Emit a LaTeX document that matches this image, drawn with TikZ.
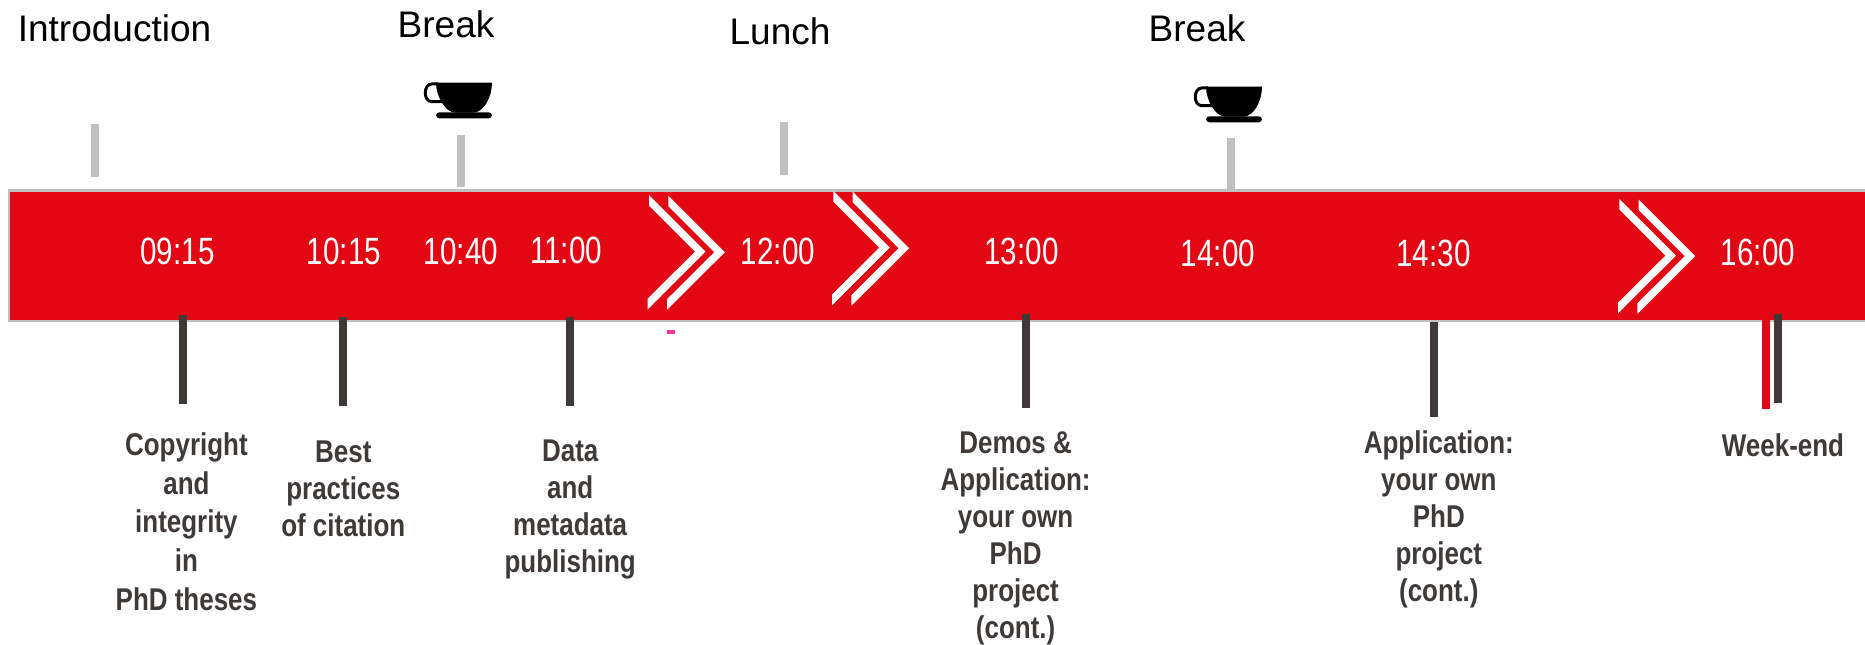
\documentclass[tikz,border=0pt]{standalone}
\usepackage{xcolor}
\usepackage{fontspec}
\setmainfont{Liberation Sans}

\definecolor{bandRed}{HTML}{E30613}
\definecolor{tickDark}{HTML}{3F3A38}
\definecolor{tickGrey}{HTML}{C0C0C0}
\definecolor{dashPink}{HTML}{FF3399}

\tikzset{
  topLabel/.style={anchor=base,inner sep=0pt,font=\fontsize{27.75pt}{30pt}\selectfont},
  timeLabel/.style={anchor=base,inner sep=0pt,text=white,xscale=0.78,font=\fontsize{28.5pt}{30pt}\selectfont},
  talkLabel/.style={anchor=base,inner sep=0pt,text=tickDark,xscale=0.825,align=center,font=\fontsize{23.6pt}{27.75pt}\selectfont\bfseries},
  upTick/.style={draw=tickGrey,line width=6pt},
  downTick/.style={draw=tickDark,line width=6pt},
  pics/doubleChevron/.style={code={
    \foreach \dx/\dy in {0/0,19.3/0.6} {
      \fill[white,shift={(\dx,\dy)}] (0,0) -- (56.5,56.6) -- (-1.3,114.3) -- (-1.3,103.6)
        -- (46,56.6) -- (0,10.6) -- cycle;
    }
  }},
  pics/coffeeCup/.style={code={
    \fill[black] (12,0) -- (68,0) .. controls (68,14) and (60,30) .. (49,30)
      -- (31,30) .. controls (22,30) and (12,14) .. (12,0) -- cycle;
    \draw[black,line width=2.2pt] (14,1.2) -- (8,1.2) .. controls (-1,1.2) and (-1,19) .. (8,19) -- (18,19);
    \fill[black,rounded corners=2.5pt] (12,29.6) rectangle (68,35.6);
  }}
}

\begin{document}
\begin{tikzpicture}[x=0.75pt,y=0.75pt,yscale=-1,xscale=1]
\useasboundingbox (0,0) rectangle (1865,644);
% red band
\draw[draw=tickGrey,fill=bandRed,line width=2.2pt] (9,190.5) rectangle (1866,321);
\pic[transform shape] at (649,195) {doubleChevron};
\pic[transform shape] at (833.3,191) {doubleChevron};
\pic[transform shape] at (1619.4,199) {doubleChevron};
\fill[dashPink] (667,330.3) rectangle (675.3,333.7);
% upper ticks
\coordinate (introTop) at (95,124);
\coordinate (introEnd) at (95,177);
\coordinate (breakOneTop) at (461,135);
\coordinate (breakOneEnd) at (461,187);
\coordinate (lunchTop) at (784,122);
\coordinate (lunchEnd) at (784,175);
\coordinate (breakTwoTop) at (1230.6,138);
\coordinate (breakTwoEnd) at (1230.6,190);
\draw[upTick] (introTop) -- (introEnd);
\draw[upTick] (breakOneTop) -- (breakOneEnd);
\draw[upTick] (lunchTop) -- (lunchEnd);
\draw[upTick] (breakTwoTop) -- (breakTwoEnd);
\pic[transform shape] at (424,82.7) {coffeeCup};
\pic[transform shape] at (1194,86.7) {coffeeCup};
\node[topLabel] (intro) at (114.5,41.5) {Introduction};
\node[topLabel] (breakOne) at (446,37.5) {Break};
\node[topLabel] (lunch) at (780,44.5) {Lunch};
\node[topLabel] (breakTwo) at (1197,41.5) {Break};
% times
\node[timeLabel] (t0915) at (177.5,264) {09:15};
\node[timeLabel] (t1015) at (344,264) {10:15};
\node[timeLabel] (t1040) at (461,264) {10:40};
\node[timeLabel] (t1100) at (566,263) {11:00};
\node[timeLabel] (t1200) at (778,264) {12:00};
\node[timeLabel] (t1300) at (1021.5,264) {13:00};
\node[timeLabel] (t1400) at (1218,266) {14:00};
\node[timeLabel] (t1430) at (1433.5,266) {14:30};
\node[timeLabel] (t1600) at (1758,265) {16:00};
% lower ticks
\coordinate (copyStart) at (183,315);
\coordinate (copyEnd) at (183,403.7);
\coordinate (bestStart) at (343.3,316.7);
\coordinate (bestEnd) at (343.3,405.7);
\coordinate (dataStart) at (570.2,316.7);
\coordinate (dataEnd) at (570.2,405.7);
\coordinate (demoStart) at (1025.9,314);
\coordinate (demoEnd) at (1025.9,408);
\coordinate (appStart) at (1433.9,321.7);
\coordinate (appEnd) at (1433.9,417);
\coordinate (weekRedStart) at (1766.3,320);
\coordinate (weekRedEnd) at (1766.3,408.7);
\coordinate (weekStart) at (1778.3,313.7);
\coordinate (weekEnd) at (1778.3,402.7);
\draw[downTick] (copyStart) -- (copyEnd);
\draw[downTick] (bestStart) -- (bestEnd);
\draw[downTick] (dataStart) -- (dataEnd);
\draw[downTick] (demoStart) -- (demoEnd);
\draw[downTick] (appStart) -- (appEnd);
\draw[downTick,draw=bandRed] (weekRedStart) -- (weekRedEnd);
\draw[downTick] (weekStart) -- (weekEnd);
% talks
\node[talkLabel,font=\fontsize{23.6pt}{28.9pt}\selectfont\bfseries] (copyright) at (186.4,610) {Copyright\\and\\integrity\\in\\PhD theses};
\node[talkLabel] (citation) at (343.3,536) {Best\\practices\\of citation};
\node[talkLabel] (metadata) at (570.2,572.7) {Data\\and\\metadata\\publishing};
\node[talkLabel] (demos) at (1015.6,638.5) {Demos \&\\Application:\\your own\\PhD\\project\\(cont.)};
\node[talkLabel] (application) at (1438.8,601.7) {Application:\\your own\\PhD\\project\\(cont.)};
\node[talkLabel] (weekend) at (1783,456.7) {Week-end};
\end{tikzpicture}
\end{document}
